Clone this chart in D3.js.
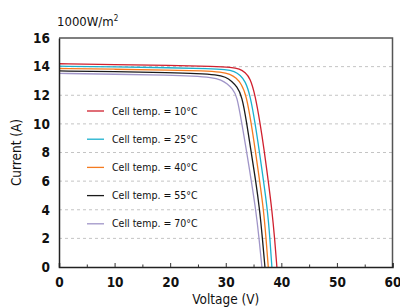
<!DOCTYPE html>
<html>
<head>
<meta charset="utf-8">
<script src="https://cdn.jsdelivr.net/npm/d3@7"></script>
<style>
  body { margin: 0; background: #fff; }
  svg text { font-family: "DejaVu Sans Condensed", "DejaVu Sans", sans-serif; fill: #111; }
</style>
</head>
<body>
<svg id="chart" width="400" height="307"></svg>
<script>
// I-V curves, [voltage, current]
var temps = ["10", "25", "40", "55", "70"];
var colors = ["#d0202e", "#1bb0ce", "#f47b20", "#1a1a1a", "#a095c8"];

var curve10 = [[0,14.2],[10,14.15],[20,14.08],[28,14.02],[31,13.96],[32.5,13.85],[33.5,13.6],[34.4,13.2],[35.3,12],[36.2,10],[36.9,8.2],[37.65,6],[38.3,4],[38.8,2],[39.2,0]];
var curve25 = [[0,14.03],[10,13.98],[20,13.92],[27,13.86],[30,13.8],[31.6,13.68],[32.6,13.4],[33.5,13.0],[34.4,12],[35.3,10],[36.0,8.2],[36.8,6],[37.5,4],[37.95,2],[38.3,0]];
var curve40 = [[0,13.87],[10,13.82],[20,13.76],[26,13.7],[29.2,13.62],[30.8,13.48],[31.9,13.2],[32.8,12.8],[33.7,12],[34.6,10],[35.3,8.2],[36.1,6],[36.8,4],[37.25,2],[37.65,0]];
var curve55 = [[0,13.7],[10,13.65],[20,13.58],[25,13.52],[28.3,13.44],[30.0,13.28],[31.1,12.98],[32.0,12.6],[32.9,12],[33.8,10],[34.5,8.2],[35.4,6],[36.1,4],[36.6,2],[37.05,0]];
var curve70 = [[0,13.53],[10,13.47],[20,13.4],[24,13.34],[27.5,13.25],[29.2,13.08],[30.3,12.8],[31.2,12.45],[32.0,12],[32.9,10],[33.7,8.2],[34.6,6],[35.4,4],[36.0,2],[36.5,0]];
var curves = [curve10, curve25, curve40, curve55, curve70];

var xTicks = [0, 10, 20, 30, 40, 50, 60];
var xMinor = [5, 15, 25, 35, 45, 55];
var yTicks = [0, 2, 4, 6, 8, 10, 12, 14, 16];

(function () {
    var svg = d3.select("#chart");
    var pl = 59, pr = 392.5, pt = 38, pb = 267;

    var x = d3.scaleLinear().domain([0, 60]).range([pl, pr]);
    var y = d3.scaleLinear().domain([0, 16]).range([pb, pt]);

    // dashed grid
    svg.selectAll("line.grid")
        .data(yTicks.filter(function (d) { return d > 0 && d < 16; }))
        .enter()
        .append("line")
        .attr("class", "grid")
        .attr("x1", pl).attr("x2", pr)
        .attr("y1", function (d) { return y(d); })
        .attr("y2", function (d) { return y(d); })
        .attr("stroke", "#c4c4c4")
        .attr("stroke-width", 1)
        .attr("stroke-dasharray", "3,3");

    // curves
    var line = d3.line()
        .x(function (d) { return x(d[0]); })
        .y(function (d) { return y(d[1]); })
        .curve(d3.curveBasis);

    svg.selectAll("path.iv")
        .data(curves)
        .enter()
        .append("path")
        .attr("class", "iv")
        .attr("d", line)
        .attr("fill", "none")
        .attr("stroke", function (d, i) { return colors[i]; })
        .attr("stroke-width", 1.3);

    // frame: top and right
    svg.append("path")
        .attr("d", "M" + pl + "," + pt + "H" + pr + "V" + pb)
        .attr("fill", "none")
        .attr("stroke", "#555")
        .attr("stroke-width", 1.5);

    // bottom axis
    var xAxis = svg.append("g")
        .attr("transform", "translate(0," + pb + ")")
        .call(d3.axisBottom(x).tickValues(xTicks).tickSize(-4).tickPadding(8));
    xAxis.selectAll(".tick text")
        .attr("font-size", 13.5)
        .attr("font-weight", "bold")
        .attr("fill", "#111")
        .attr("dy", "0.9em");
    xAxis.select(".domain").attr("stroke", "#222").attr("stroke-width", 1.5);
    xAxis.selectAll(".tick line").attr("stroke", "#333");

    svg.append("g")
        .attr("transform", "translate(0," + pb + ")")
        .call(d3.axisBottom(x).tickValues(xMinor).tickSize(-2.5).tickFormat(""))
        .call(function (g) { g.select(".domain").remove(); })
        .selectAll(".tick line").attr("stroke", "#333");

    // left axis
    var yAxis = svg.append("g")
        .attr("transform", "translate(" + pl + ",0)")
        .call(d3.axisLeft(y).tickValues(yTicks).tickSize(0).tickPadding(9));
    yAxis.selectAll(".tick text")
        .attr("font-size", 13.5)
        .attr("font-weight", "bold")
        .attr("fill", "#111");
    yAxis.select(".domain").attr("stroke", "#222").attr("stroke-width", 1.5);

    // axis titles
    svg.append("text")
        .attr("x", (pl + pr) / 2)
        .attr("y", 304)
        .attr("text-anchor", "middle")
        .attr("font-size", 13.5)
        .text("Voltage (V)");

    svg.append("text")
        .attr("transform", "translate(21," + (pt + pb) / 2 + ") rotate(-90)")
        .attr("text-anchor", "middle")
        .attr("font-size", 13.5)
        .text("Current (A)");

    // irradiance note
    var note = svg.append("text")
        .attr("x", 57)
        .attr("y", 26)
        .attr("font-size", 13)
        .text("1000W/m");
    note.append("tspan")
        .attr("font-size", 8)
        .attr("dy", -5)
        .text("2");

    // legend
    var legend = svg.selectAll("g.legend")
        .data(temps)
        .enter()
        .append("g")
        .attr("class", "legend")
        .attr("transform", function (d, i) { return "translate(87," + (111 + i * 28.2) + ")"; });

    legend.append("line")
        .attr("x1", 0).attr("x2", 17)
        .attr("stroke", function (d, i) { return colors[i]; })
        .attr("stroke-width", 1.3);

    legend.append("text")
        .attr("x", 25)
        .attr("dy", "0.35em")
        .attr("font-size", 10.5)
        .text(function (d) { return "Cell temp. = " + d + "°C"; });
})();
</script>
</body>
</html>
